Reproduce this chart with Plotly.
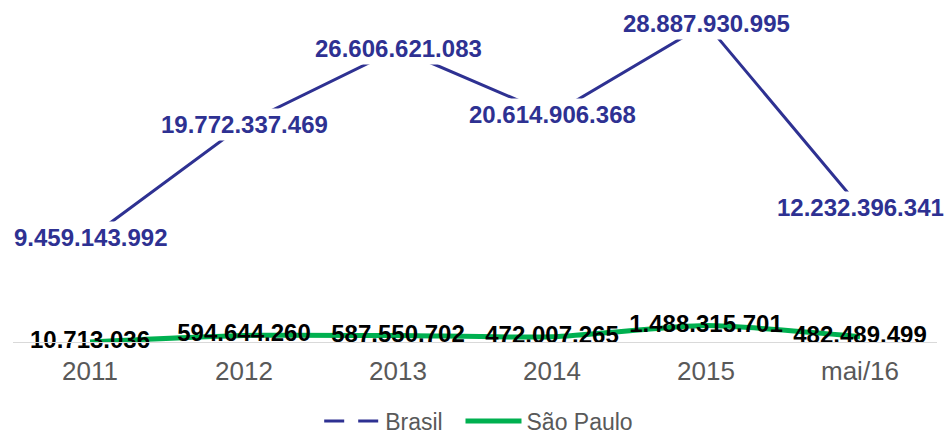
import plotly.graph_objects as go

categories = ["2011", "2012", "2013", "2014", "2015", "mai/16"]
brasil = [9459143992, 19772337469, 26606621083, 20614906368, 28887930995, 12232396341]
sao_paulo = [10713036, 594644260, 587550702, 472007265, 1488315701, 482489499]
series_names = ["Brasil", "São Paulo"]

NAVY = "#2E3192"
GREEN = "#00B050"
GRAY = "#595959"
FONT = "Liberation Sans, Arial, sans-serif"


def fmt(v):
    return f"{v:,}".replace(",", ".")


fig = go.Figure()

# Brasil line (solid in plot)
fig.add_trace(go.Scatter(
    x=categories, y=brasil, mode="lines",
    line=dict(color=NAVY, width=3),
    showlegend=False, hoverinfo="skip",
))

# São Paulo line with labels
fig.add_trace(go.Scatter(
    x=categories, y=sao_paulo, mode="lines+text",
    line=dict(color=GREEN, width=5, shape="spline", smoothing=0.6),
    text=[fmt(v) for v in sao_paulo], textposition="middle center",
    textfont=dict(family=FONT, size=24, color="#000000", weight="bold"),
    cliponaxis=False,
    showlegend=False, hoverinfo="skip",
))

# Legend entries
fig.add_trace(go.Scatter(
    x=[None], y=[None], mode="lines", name=series_names[0] + "\u00a0\u00a0",
    line=dict(color=NAVY, width=3, dash="20px,14px"),
))
fig.add_trace(go.Scatter(
    x=[None], y=[None], mode="lines", name=series_names[1],
    line=dict(color=GREEN, width=5),
))

# Brasil data labels with white background (hide the line beneath)
for i, v in enumerate(brasil):
    fig.add_annotation(
        x=i, y=v, xref="x", yref="y", text=fmt(v), showarrow=False,
        font=dict(family=FONT, size=24, color=NAVY, weight="bold"),
        bgcolor="white", borderpad=2, xanchor="center", yanchor="middle",
    )

fig.update_layout(
    width=947, height=436,
    margin=dict(l=13, r=10, t=0, b=94, autoexpand=False),
    paper_bgcolor="white", plot_bgcolor="white",
    font=dict(family=FONT, color=GRAY),
    xaxis=dict(
        type="category", showgrid=False, zeroline=False,
        showline=True, linecolor="#D9D9D9", linewidth=1,
        ticks="outside", ticklen=6, tickcolor="rgba(0,0,0,0)",
        tickfont=dict(family=FONT, size=26, color=GRAY),
        range=[-0.5, 5.5],
    ),
    yaxis=dict(
        range=[0, 31.03e9], visible=False, showgrid=False, zeroline=False,
    ),
    legend=dict(
        orientation="h", x=0.504, xanchor="center", y=-0.294, yanchor="bottom",
        font=dict(family=FONT, size=23, color=GRAY),
        itemwidth=56,
    ),
)

fig.write_html("out.html", config={"displayModeBar": False},
               post_script="document.body.style.margin='0';")
